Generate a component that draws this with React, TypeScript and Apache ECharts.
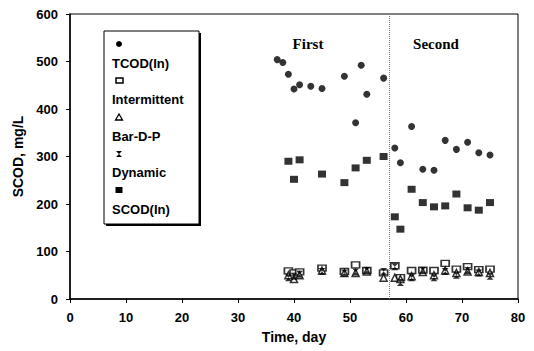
import React, { useEffect, useRef } from "react";
import * as echarts from "echarts";

const tcodDays = [37, 38, 39, 40, 41, 43, 45, 49, 51, 52, 53, 56, 58, 59, 61, 63, 65, 67, 69, 71, 73, 75];
const tcodIn = [504, 498, 473, 442, 451, 448, 443, 469, 371, 492, 431, 465, 318, 287, 363, 273, 271, 334, 315, 330, 308, 303];

const lowDays = [39, 40, 41, 45, 49, 51, 53, 56, 58, 59, 61, 63, 65, 67, 69, 71, 73, 75];
const scodIn = [290, 252, 293, 263, 245, 276, 292, 300, 173, 147, 231, 203, 194, 196, 221, 192, 187, 203];
const intermittent = [59, 55, 57, 65, 58, 72, 60, 55, 70, 45, 60, 61, 60, 75, 63, 68, 62, 63];
const barDP = [50, 42, 50, 60, 55, 55, 58, 45, 45, 42, 48, 57, 50, 60, 55, 58, 57, 55];
const dynamic = [45, 48, 52, 58, 55, 57, 60, 58, 68, 35, 45, 60, 45, 58, 50, 60, 55, 48];

const xTicks = { min: 0, max: 80, interval: 10 };
const yTicks = { min: 0, max: 600, interval: 100 };
const phaseSwitchDay = 57;

const pairs = (xs: number[], ys: number[]) => xs.map((x, i) => [x, ys[i]]);

const HOURGLASS = "path://M0,0L10,0L5,5L10,10L0,10L5,5Z";

export default function App() {
  const ref = useRef<HTMLDivElement>(null);
  useEffect(() => {
    if (!ref.current) return;
    const chart = echarts.init(ref.current, null, { renderer: "svg" });
    const axisLabel = { color: "#000", fontFamily: "Liberation Sans, Arial", fontWeight: "bold" as const, fontSize: 13 };
    const legendText = (y: number, t: string) => ({
      type: "text",
      left: 112,
      top: y - 8,
      style: { text: t, fill: "#000", font: "bold 13px 'Liberation Sans', Arial" },
    });
    chart.setOption({
      animation: false,
      backgroundColor: "#fff",
      grid: { left: 70, right: 16, top: 14, bottom: 52, show: true, borderColor: "#000", borderWidth: 1 },
      xAxis: {
        type: "value",
        ...xTicks,
        name: "Time, day",
        nameLocation: "middle",
        nameGap: 31,
        nameTextStyle: { ...axisLabel, fontSize: 14 },
        axisLine: { lineStyle: { color: "#000", width: 1.5 } },
        axisTick: { lineStyle: { color: "#000" }, length: 4 },
        axisLabel: { ...axisLabel, margin: 12 },
        splitLine: { show: false },
      },
      yAxis: {
        type: "value",
        ...yTicks,
        name: "SCOD, mg/L",
        nameLocation: "middle",
        nameGap: 45,
        nameTextStyle: { ...axisLabel, fontSize: 14 },
        axisLine: { show: true, lineStyle: { color: "#000", width: 1.5 } },
        axisTick: { show: true, lineStyle: { color: "#000" }, length: 4 },
        axisLabel: { ...axisLabel, margin: 12 },
        splitLine: { show: false },
      },
      series: [
        {
          name: "SCOD(In)",
          type: "scatter",
          symbol: "rect",
          symbolSize: [8, 7],
          itemStyle: { color: "#000" },
          data: pairs(lowDays, scodIn),
          markLine: {
            silent: true,
            symbol: "none",
            label: { show: false },
            lineStyle: { color: "#777", type: "dotted", width: 1 },
            data: [{ xAxis: phaseSwitchDay }],
          },
        },
        {
          name: "TCOD(In)",
          type: "scatter",
          symbol: "circle",
          symbolSize: 7,
          itemStyle: { color: "#000" },
          data: pairs(tcodDays, tcodIn),
        },
        {
          name: "Intermittent",
          type: "scatter",
          symbol: "rect",
          symbolSize: [8, 6],
          itemStyle: { color: "#fff", borderColor: "#000", borderWidth: 1.5 },
          data: pairs(lowDays, intermittent),
        },
        {
          name: "Bar-D-P",
          type: "scatter",
          symbol: "triangle",
          symbolSize: 7,
          itemStyle: { color: "#fff", borderColor: "#000", borderWidth: 1.5 },
          data: pairs(lowDays, barDP),
        },
        {
          name: "Dynamic",
          type: "scatter",
          symbol: HOURGLASS,
          symbolSize: [7, 7],
          itemStyle: { color: "#000" },
          data: pairs(lowDays, dynamic),
        },
      ],
      graphic: [
        {
          type: "text",
          x: 308,
          y: 44,
          style: { text: "First", fill: "#000", font: "bold 15px 'Liberation Serif', 'Times New Roman', serif", align: "center", verticalAlign: "middle" },
        },
        {
          type: "text",
          x: 436,
          y: 44,
          style: { text: "Second", fill: "#000", font: "bold 15px 'Liberation Serif', 'Times New Roman', serif", align: "center", verticalAlign: "middle" },
        },
        { type: "rect", shape: { x: 106, y: 33, width: 95, height: 193 }, style: { fill: "#000" } },
        { type: "rect", shape: { x: 104, y: 31, width: 95, height: 193 }, style: { fill: "#fff", stroke: "#000", lineWidth: 1 } },
        { type: "circle", shape: { cx: 119, cy: 44, r: 3 }, style: { fill: "#000" } },
        legendText(65, "TCOD(In)"),
        { type: "rect", shape: { x: 116, y: 78, width: 7, height: 5 }, style: { fill: "#fff", stroke: "#000", lineWidth: 1.5 } },
        legendText(101, "Intermittent"),
        { type: "polygon", shape: { points: [[119, 114], [122.5, 120], [115.5, 120]] }, style: { fill: "#fff", stroke: "#000", lineWidth: 1.3 } },
        legendText(138, "Bar-D-P"),
        { type: "polygon", shape: { points: [[116, 151], [122, 151], [119, 154], [122, 157], [116, 157], [119, 154]] }, style: { fill: "#000" } },
        legendText(174, "Dynamic"),
        { type: "rect", shape: { x: 115.5, y: 187, width: 7, height: 6 }, style: { fill: "#000" } },
        legendText(211, "SCOD(In)"),
      ],
    });
    return () => chart.dispose();
  }, []);
  return <div ref={ref} style={{ width: 534, height: 351, position: "absolute", left: 0, top: 0 }} />;
}
